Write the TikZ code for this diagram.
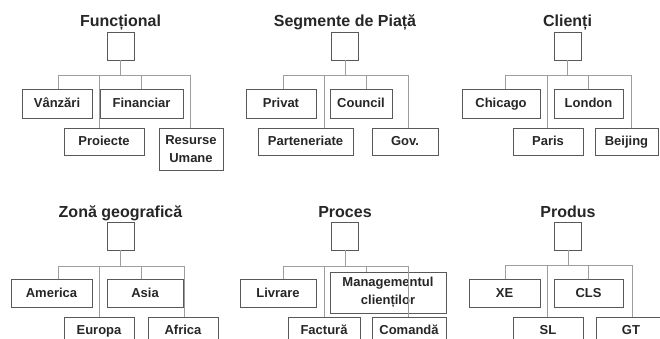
\documentclass[tikz,border=0pt]{standalone}
\usepackage{fontspec}
\setmainfont{Liberation Sans}
\begin{document}
\begin{tikzpicture}[x=1pt,y=-1pt,
  title/.style={font=\fontsize{16}{18}\selectfont\bfseries, text=black!85, anchor=base, inner sep=0},
  head/.style={draw=black!65, line width=0.9pt, minimum width=27pt, minimum height=28pt, inner sep=0},
  unit/.style={draw=black!65, line width=0.9pt, inner sep=0, font=\fontsize{13}{16}\selectfont\bfseries, text=black!85, align=center},
  one/.style={unit, text height=9.6pt, text depth=1pt},
  conn/.style={draw=black!38, line width=0.9pt}]
\useasboundingbox (0,0) rectangle (660,339);
\clip (0,0) rectangle (660,339);

% ---------- Funcțional ----------
\node[title] (ft) at (120.5,27) {Funcțional};
\node[head] (f0) at (120.5,46) {};
\node[one, minimum width=70pt, minimum height=29pt] (fv) at (57,103.5) {Vânzări};
\node[one, minimum width=83pt, minimum height=29pt] (ff) at (141.5,103.5) {Financiar};
\node[one, minimum width=80pt, minimum height=27pt] (fp) at (104,141.5) {Proiecte};
\node[unit, minimum width=64pt, minimum height=42pt] (fr) at (191,149) {Resurse\\[2.5pt]Umane};
\draw[conn] (f0.south) -- ++(0,15) coordinate (fb);
\draw[conn] (fb) -| ([xshift=1pt]fv.north);
\draw[conn] (fb) -| ([xshift=-0.5pt]ff.north);
\draw[conn] (fb) -| ([xshift=-5pt]fp.north);
\draw[conn] (fb) -| ([xshift=-1pt]fr.north);

% ---------- Segmente de Piață ----------
\node[title] (st) at (345,27) {Segmente de Piață};
\node[head] (s0) at (345,46) {};
\node[one, minimum width=70pt, minimum height=29pt] (sp) at (281,103.5) {Privat};
\node[one, minimum width=62pt, minimum height=29pt] (sc) at (361,103.5) {Council};
\node[one, minimum width=95pt, minimum height=27pt] (spa) at (305.5,141.5) {Parteneriate};
\node[one, minimum width=66pt, minimum height=27pt] (sg) at (405,141.5) {Gov.};
\draw[conn] (s0.south) -- ++(0,15) coordinate (sb);
\draw[conn] (sb) -| ([xshift=2pt]sp.north);
\draw[conn] (sb) -| ([xshift=5pt]sc.north);
\draw[conn] (sb) -| ([xshift=18.5pt]spa.north);
\draw[conn] (sb) -| ([xshift=3pt]sg.north);

% ---------- Clienți ----------
\node[title] (ct) at (567.5,27) {Clienți};
\node[head] (c0) at (567.5,46) {};
\node[one, minimum width=78pt, minimum height=29pt] (cc) at (501,103.5) {Chicago};
\node[one, minimum width=69pt, minimum height=29pt] (cl) at (588.5,103.5) {London};
\node[one, minimum width=70pt, minimum height=27pt] (cp) at (548,141.5) {Paris};
\node[one, minimum width=63pt, minimum height=27pt] (cb) at (626.5,141.5) {Beijing};
\draw[conn] (c0.south) -- ++(0,15) coordinate (cbus);
\draw[conn] (cbus) -| ([xshift=4pt]cc.north);
\draw[conn] (cbus) -| ([xshift=-0.5pt]cl.north);
\draw[conn] (cbus) -| ([xshift=-1pt]cp.north);
\draw[conn] (cbus) -| ([xshift=4.5pt]cb.north);

% ---------- Zonă geografică ----------
\node[title] (zt) at (120.5,217) {Zonă geografică};
\node[head] (z0) at (120.5,236) {};
\node[one, minimum width=81pt, minimum height=28pt] (za) at (51.5,293) {America};
\node[one, minimum width=76pt, minimum height=28pt] (zs) at (145,293) {Asia};
\node[one, minimum width=70pt, minimum height=27pt] (ze) at (99,330.5) {Europa};
\node[one, minimum width=70pt, minimum height=27pt] (zf) at (183,330.5) {Africa};
\draw[conn] (z0.south) -- ++(0,16) coordinate (zb);
\draw[conn] (zb) -| ([xshift=6.5pt]za.north);
\draw[conn] (zb) -| ([xshift=-4pt]zs.north);
\draw[conn] (zb) -| (ze.north);
\draw[conn] (zb) -| ([xshift=1pt]zf.north);

% ---------- Proces ----------
\node[title] (pt) at (345,217) {Proces};
\node[head] (p0) at (345,236) {};
\node[one, minimum width=76pt, minimum height=28pt] (pl) at (278,293) {Livrare};
\node[unit, minimum width=116pt, minimum height=41pt] (pm) at (388,292.5) {Managementul\\[2.5pt]clienților};
\node[one, minimum width=72pt, minimum height=27pt] (pf) at (324,330.5) {Factură};
\node[one, minimum width=74pt, minimum height=27pt] (pc) at (409,330.5) {Comandă};
\draw[conn] (p0.south) -- ++(0,16) coordinate (pb);
\draw[conn] (pb) -| ([xshift=5pt]pl.north);
\draw[conn] (pb) -| ([xshift=-22pt]pm.north);
\draw[conn] (pb) -| (pf.north);
\draw[conn] (pb) -| ([xshift=-1pt]pc.north);

% ---------- Produs ----------
\node[title] (dt) at (568,217) {Produs};
\node[head] (d0) at (568,236) {};
\node[one, minimum width=71pt, minimum height=28pt] (dx) at (504.5,293) {XE};
\node[one, minimum width=69pt, minimum height=28pt] (dc) at (588.5,293) {CLS};
\node[one, minimum width=70pt, minimum height=27pt] (ds) at (548,330.5) {SL};
\node[one, minimum width=70pt, minimum height=27pt] (dg) at (631,330.5) {GT};
\draw[conn] (d0.south) -- ++(0,15) coordinate (db);
\draw[conn] (db) -| ([xshift=0.5pt]dx.north);
\draw[conn] (db) -| ([xshift=-0.5pt]dc.north);
\draw[conn] (db) -| ([xshift=-1pt]ds.north);
\draw[conn] (db) -| ([xshift=1pt]dg.north);
\end{tikzpicture}
\end{document}
